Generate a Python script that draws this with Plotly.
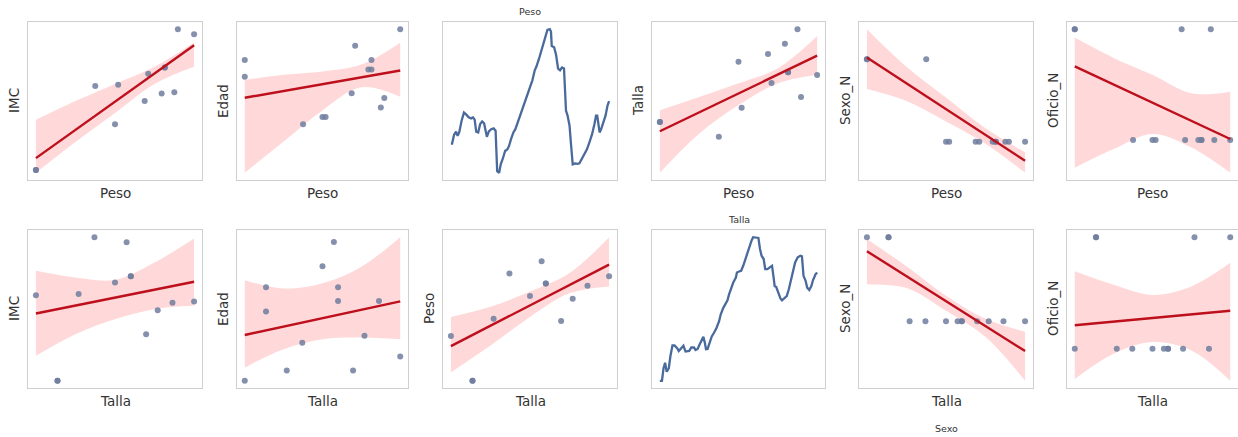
import numpy as np
import plotly.graph_objects as go

# ---- observations (13 personas) ----
peso = [50.0, 50.0, 65.0, 70.0, 70.8, 77.5, 78.4, 81.8, 82.6, 82.6, 85.0, 85.9, 90.0]
talla = [1.591, 1.591, 1.550, 1.759, 1.631, 1.781, 1.700, 1.809, 1.730, 1.730, 1.850, 1.661, 1.722]
imc = [19.8, 19.8, 26.6, 23.5, 26.7, 25.4, 27.6, 26.0, 28.1, 28.1, 26.1, 31.2, 30.8]
edad = [47, 40, 20, 23, 23, 33, 53, 43, 43, 47, 27, 31, 60]
sexo_n = [1, 1, 1, 0, 0, 0, 0, 0, 0, 0, 0, 0, 0]
oficio_n = [1, 1, 0, 0, 0, 1, 0, 0, 0, 0, 1, 0, 0]

# ---- fitted regression values at the smallest and largest x ----
fit_imc_peso = [20.77, 29.90]
fit_edad_peso = [31.1, 42.6]
fit_talla_peso = [1.565, 1.776]
fit_sexo_peso = [1.021, -0.232]
fit_oficio_peso = [0.665, 0.009]
fit_imc_talla = [25.14, 27.66]
fit_edad_talla = [33.2, 42.9]
fit_peso_talla = [61.6, 88.9]
fit_sexo_talla = [0.833, -0.354]
fit_oficio_talla = [0.211, 0.341]

# ---- 95% confidence bands of each fit, sampled at 0, 25, 50, 75, 100 % of the x range ----
band_frac = [0.0, 0.25, 0.5, 0.75, 1.0]
band_imc_peso_hi = [23.87, 25.39, 26.77, 28.16, 30.15]
band_imc_peso_lo = [19.58, 22.07, 24.42, 26.77, 28.16]
band_edad_peso_hi = [38.6, 40.8, 42.2, 45.1, 54.3]
band_edad_peso_lo = [-0.5, 12.7, 25.8, 35.5, 31.5]
band_talla_peso_hi = [1.624, 1.661, 1.699, 1.741, 1.831]
band_talla_peso_lo = [1.449, 1.558, 1.638, 1.699, 1.723]
band_sexo_peso_hi = [1.365, 0.909, 0.535, 0.162, -0.129]
band_sexo_peso_lo = [0.639, 0.494, 0.245, -0.025, -0.378]
band_oficio_peso_hi = [0.924, 0.741, 0.588, 0.421, 0.436]
band_oficio_peso_lo = [-0.250, -0.082, 0.055, -0.067, -0.296]
band_imc_talla_hi = [28.53, 28.00, 27.81, 29.19, 31.09]
band_imc_talla_lo = [21.78, 23.50, 24.69, 25.49, 25.75]
band_edad_talla_hi = [49.0, 46.6, 48.1, 52.9, 61.4]
band_edad_talla_lo = [23.8, 29.1, 32.0, 32.5, 32.0]
band_peso_talla_hi = [71.4, 74.8, 79.9, 86.1, 98.1]
band_peso_talla_lo = [52.8, 61.8, 71.4, 79.3, 81.6]
band_sexo_talla_hi = [0.979, 0.654, 0.304, 0.029, -0.125]
band_sexo_talla_lo = [0.438, 0.396, 0.125, -0.188, -0.708]
band_oficio_talla_hi = [0.695, 0.574, 0.483, 0.559, 0.770]
band_oficio_talla_lo = [-0.272, -0.045, 0.060, -0.015, -0.287]

# ---- diagonal curves ----
diag_peso_x = [50.0, 50.3, 50.8, 51.3, 51.7, 52.1, 52.7, 53.3, 53.9, 54.5, 55.1, 55.6, 56.0, 56.4,
               56.9, 57.4, 57.9, 58.4, 58.7, 59.1, 59.6, 60.2, 60.8, 61.3, 61.5, 61.7, 62.2, 62.6,
               63.2, 63.7, 64.3, 64.7, 65.2, 65.8, 66.3, 66.9, 67.5, 68.2, 68.8, 69.4, 70.0, 70.6,
               71.2, 71.6, 72.3, 72.9, 73.5, 74.0, 74.4, 75.0, 75.3, 75.5, 76.1, 76.6, 77.1, 77.6,
               78.1, 78.6, 79.1, 79.5, 80.0, 80.3, 80.7, 80.8, 81.4, 82.0, 82.5, 83.1, 83.7, 84.4,
               85.0, 85.7, 86.3, 86.7, 87.0, 87.3, 87.6, 88.0, 88.5, 89.1, 89.6, 90.0]
diag_peso_y = [20.4, 20.4, 26.5, 28.6, 25.8, 28.1, 36.3, 41.9, 40.5, 38.6, 37.9, 38.6, 37.0, 28.6,
               28.1, 34.0, 35.8, 34.4, 30.4, 25.1, 28.8, 30.4, 30.9, 29.3, 15.2, 1.2, 0.0, 5.9,
               10.5, 15.2, 16.4, 18.7, 23.4, 28.1, 30.4, 35.1, 39.1, 44.5, 49.2, 55.0, 59.7, 64.4,
               71.4, 73.8, 79.6, 85.5, 91.3, 97.2, 99.5, 100.0, 98.4, 88.3, 87.4, 82.0, 72.6, 71.4,
               73.3, 72.6, 43.3, 39.8, 32.8, 22.2, 9.4, 5.9, 6.6, 6.3, 6.6, 9.4, 12.9, 16.4,
               21.1, 26.9, 34.0, 39.8, 39.8, 34.0, 28.1, 30.4, 35.1, 39.8, 46.8, 49.9]
diag_talla_x = [1.550, 1.554, 1.557, 1.560, 1.563, 1.567, 1.570, 1.574, 1.578, 1.583, 1.586, 1.591,
                1.595, 1.599, 1.602, 1.606, 1.610, 1.615, 1.618, 1.622, 1.626, 1.631, 1.633, 1.636,
                1.638, 1.641, 1.644, 1.649, 1.653, 1.658, 1.663, 1.666, 1.671, 1.674, 1.679, 1.682,
                1.686, 1.690, 1.695, 1.697, 1.701, 1.705, 1.709, 1.712, 1.717, 1.721, 1.725, 1.728,
                1.732, 1.736, 1.738, 1.741, 1.744, 1.748, 1.751, 1.755, 1.760, 1.764, 1.767, 1.769,
                1.772, 1.776, 1.780, 1.783, 1.788, 1.792, 1.796, 1.800, 1.804, 1.808, 1.813, 1.818,
                1.821, 1.824, 1.828, 1.831, 1.835, 1.839, 1.842, 1.847, 1.850]
diag_talla_y = [0.0, 0.0, 8.7, 12.6, 6.3, 8.7, 16.9, 24.6, 24.6, 22.7, 20.8, 23.2,
                24.4, 20.4, 20.4, 20.8, 23.2, 23.2, 21.5, 22.2, 25.5, 28.6, 30.7, 26.2,
                22.0, 22.2, 26.2, 30.9, 33.3, 36.8, 41.5, 46.1, 50.8, 53.2, 56.0, 60.2,
                64.9, 68.4, 71.9, 75.4, 76.1, 76.6, 80.1, 83.6, 88.3, 93.0, 97.7, 100.0,
                100.0, 99.5, 99.5, 91.8, 87.1, 84.8, 77.8, 77.8, 79.4, 80.1, 71.9, 66.0,
                65.3, 61.4, 57.4, 56.0, 57.4, 59.0, 63.7, 70.0, 76.6, 82.4, 86.0, 87.1,
                86.7, 73.1, 69.6, 64.9, 63.2, 66.0, 70.0, 74.2, 75.4]

variables = {"Peso": peso, "Talla": talla, "IMC": imc, "Edad": edad,
             "Sexo_N": sexo_n, "Oficio_N": oficio_n}
fits = {
    ("Peso", "IMC"): (fit_imc_peso, band_imc_peso_lo, band_imc_peso_hi),
    ("Peso", "Edad"): (fit_edad_peso, band_edad_peso_lo, band_edad_peso_hi),
    ("Peso", "Talla"): (fit_talla_peso, band_talla_peso_lo, band_talla_peso_hi),
    ("Peso", "Sexo_N"): (fit_sexo_peso, band_sexo_peso_lo, band_sexo_peso_hi),
    ("Peso", "Oficio_N"): (fit_oficio_peso, band_oficio_peso_lo, band_oficio_peso_hi),
    ("Talla", "IMC"): (fit_imc_talla, band_imc_talla_lo, band_imc_talla_hi),
    ("Talla", "Edad"): (fit_edad_talla, band_edad_talla_lo, band_edad_talla_hi),
    ("Talla", "Peso"): (fit_peso_talla, band_peso_talla_lo, band_peso_talla_hi),
    ("Talla", "Sexo_N"): (fit_sexo_talla, band_sexo_talla_lo, band_sexo_talla_hi),
    ("Talla", "Oficio_N"): (fit_oficio_talla, band_oficio_talla_lo, band_oficio_talla_hi),
}
row_x = ["Peso", "Talla"]
col_y = [["IMC", "Edad", None, "Talla", "Sexo_N", "Oficio_N"],
         ["IMC", "Edad", "Peso", None, "Sexo_N", "Oficio_N"]]
diag = {"Peso": (diag_peso_x, diag_peso_y), "Talla": (diag_talla_x, diag_talla_y)}

# ---- geometry (pixels) ----
W, H = 1238, 437
col_l = [28, 237, 443, 652, 859, 1067]
col_r = [202, 408, 617, 825, 1033, 1238]
row_t = [22, 230]
row_b = [180, 388]

SCATTER = "#6f7c9e"
LINE = "#bd0f1c"
BAND = "rgba(255, 0, 0, 0.15)"
DIAG = "#4a6a9c"
TXT = "#333333"
FONT = "DejaVu Sans"
LABEL_SIZE = 13.5
TITLE_SIZE = 9.5


def padded(lo, hi, frac=0.05):
    d = (hi - lo) * frac
    return [lo - d, hi + d]


fig = go.Figure()
layout = {}
annotations = []
k = 0
for r in range(2):
    xname = row_x[r]
    for c in range(6):
        k += 1
        xa = "x" if k == 1 else f"x{k}"
        ya = "y" if k == 1 else f"y{k}"
        yname = col_y[r][c]
        if yname is None:
            dx, dy = diag[xname]
            fig.add_trace(go.Scatter(x=dx, y=dy, mode="lines", xaxis=xa, yaxis=ya,
                                     line=dict(color=DIAG, width=2.3), showlegend=False,
                                     hoverinfo="skip"))
            xr = padded(min(dx), max(dx))
            yr = padded(min(dy), max(dy))
            annotations.append(dict(text=xname, xref=f"{xa} domain", yref=f"{ya} domain",
                                    x=0.5, y=1, yanchor="bottom", yshift=3, showarrow=False,
                                    font=dict(family=FONT, size=TITLE_SIZE, color=TXT)))
        else:
            xv = variables[xname]
            yv = variables[yname]
            fit, blo, bhi = fits[(xname, yname)]
            x0, x1 = min(xv), max(xv)
            bx = [x0 + f * (x1 - x0) for f in band_frac]
            fig.add_trace(go.Scatter(x=bx, y=blo, mode="lines", xaxis=xa, yaxis=ya,
                                     line=dict(width=0, shape="spline", smoothing=1.0),
                                     showlegend=False, hoverinfo="skip"))
            fig.add_trace(go.Scatter(x=bx, y=bhi, mode="lines", xaxis=xa, yaxis=ya,
                                     fill="tonexty", fillcolor=BAND,
                                     line=dict(width=0, shape="spline", smoothing=1.0),
                                     showlegend=False, hoverinfo="skip"))
            fig.add_trace(go.Scatter(x=xv, y=yv, mode="markers", xaxis=xa, yaxis=ya,
                                     marker=dict(color=SCATTER, size=6, opacity=0.85,
                                                 line=dict(width=0)),
                                     showlegend=False))
            fig.add_trace(go.Scatter(x=[x0, x1], y=fit, mode="lines",
                                     xaxis=xa, yaxis=ya, line=dict(color=LINE, width=2.4),
                                     showlegend=False, hoverinfo="skip"))
            xr = padded(x0, x1)
            yr = padded(min(min(yv), min(blo)), max(max(yv), max(bhi)))
            annotations.append(dict(text=xname, xref=f"{xa} domain", yref=f"{ya} domain",
                                    x=0.5, y=0, yanchor="top", yshift=-3, showarrow=False,
                                    font=dict(family=FONT, size=LABEL_SIZE, color=TXT)))
            annotations.append(dict(text=yname, xref=f"{xa} domain", yref=f"{ya} domain",
                                    x=0, y=0.5, xanchor="right", xshift=-4, textangle=-90,
                                    showarrow=False,
                                    font=dict(family=FONT, size=LABEL_SIZE, color=TXT)))
        axis_common = dict(showgrid=False, zeroline=False, showticklabels=False, ticks="",
                           showline=True, mirror=True, linecolor="#cfcfcf", linewidth=1)
        layout["xaxis" if k == 1 else f"xaxis{k}"] = dict(
            domain=[col_l[c] / W, col_r[c] / W], range=xr, anchor=ya, **axis_common)
        layout["yaxis" if k == 1 else f"yaxis{k}"] = dict(
            domain=[(H - row_b[r]) / H, (H - row_t[r]) / H], range=yr, anchor=xa,
            **axis_common)

annotations.append(dict(text="Sexo", xref="paper", yref="paper", x=946 / W, y=(H - 428) / H,
                        xanchor="center", yanchor="middle", showarrow=False,
                        font=dict(family=FONT, size=TITLE_SIZE, color=TXT)))

fig.update_layout(width=W, height=H, margin=dict(l=0, r=0, t=0, b=0),
                  paper_bgcolor="white", plot_bgcolor="white",
                  annotations=annotations, **layout)
fig.write_html("out.html")
